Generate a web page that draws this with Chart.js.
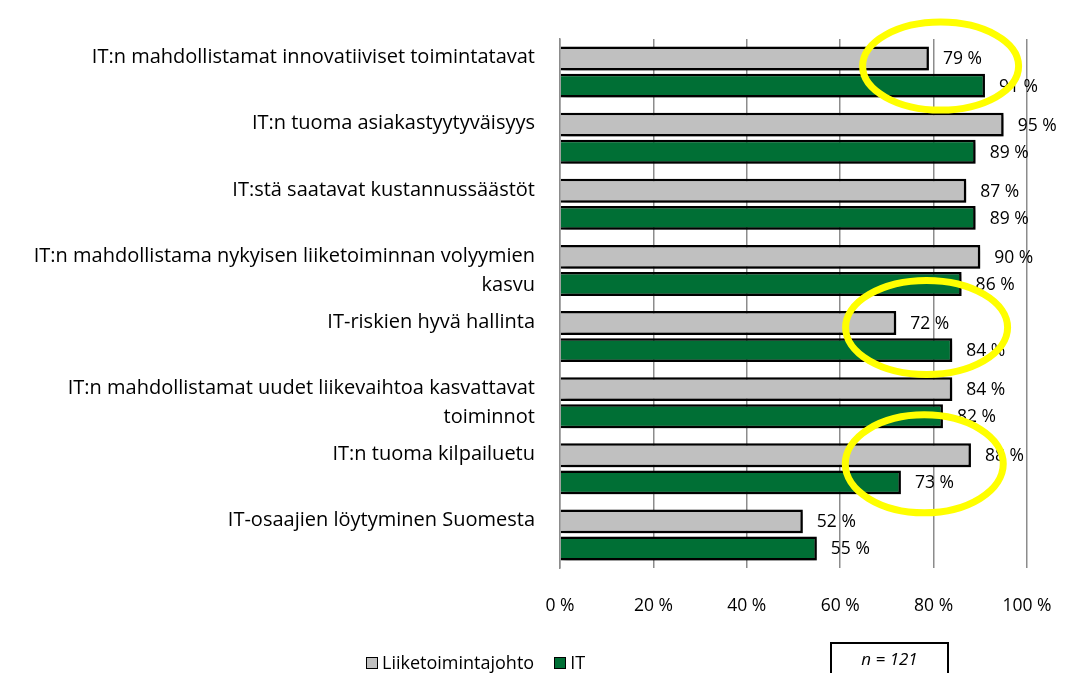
<!DOCTYPE html>
<html>
<head>
<meta charset="utf-8">
<script src="https://cdn.jsdelivr.net/npm/chart.js@4/dist/chart.umd.min.js"></script>
<style>
  html, body { margin: 0; padding: 0; background: #fff; }
  #wrap { position: relative; width: 1066px; height: 673px; overflow: hidden; }
  #legend { position: absolute; left: 366px; top: 650px; font: 18px "Open Sans", sans-serif; color: #000; display: flex; gap: 20px; line-height: 24px; }
  #legend span.item { display: flex; align-items: center; }
  #legend i { display: inline-block; width: 10px; height: 10px; border: 1.5px solid #000; margin-right: 4px; margin-top: 2px; }
  #nbox { position: absolute; left: 830px; top: 642px; width: 115px; height: 30px; border: 2px solid #000; font: italic 17px "Open Sans", sans-serif; text-align: center; line-height: 30px; }
</style>
</head>
<body>
<div id="wrap">
  <canvas id="chart" width="1066" height="673"></canvas>
  <div id="legend">
    <span class="item"><i style="background:#c0c0c0"></i>Liiketoimintajohto</span>
    <span class="item"><i style="background:#006f35"></i>IT</span>
  </div>
  <div id="nbox">n = 121</div>
</div>
<script>
// Categories (single-line labels get an empty second line so they sit high like in the original)
const categories = [
    ['IT:n mahdollistamat innovatiiviset toimintatavat', ''],
    ['IT:n tuoma asiakastyytyväisyys', ''],
    ['IT:stä saatavat kustannussäästöt', ''],
    ['IT:n mahdollistama nykyisen liiketoiminnan volyymien', 'kasvu'],
    ['IT-riskien hyvä hallinta', ''],
    ['IT:n mahdollistamat uudet liikevaihtoa kasvattavat', 'toiminnot'],
    ['IT:n tuoma kilpailuetu', ''],
    ['IT-osaajien löytyminen Suomesta', '']
];
const businessValues = [79, 95, 87, 90, 72, 84, 88, 52];
const itValues = [91, 89, 89, 86, 84, 82, 73, 55];
const xTicks = [0, 20, 40, 60, 80, 100];

// Highlight ellipses (category index, centre value, offsets)
const highlights = [
    { cat: 0, value: 81.5, dy: -6, rx: 78, ry: 44 },
    { cat: 4, value: 78.5, dy: -9, rx: 81, ry: 47 },
    { cat: 6, value: 78, dy: -5, rx: 79, ry: 49 }
];

const fontFamily = '"Open Sans", sans-serif';

// Soft drop shadow under the bars
const shadowPlugin = {
    id: 'shadow',
    beforeDatasetsDraw(chart) {
        const ctx = chart.ctx;
        ctx.save();
        ctx.shadowColor = 'rgba(0,0,0,0.45)';
        ctx.shadowBlur = 5;
        ctx.shadowOffsetX = 3;
        ctx.shadowOffsetY = 3;
    },
    afterDatasetsDraw(chart) {
        chart.ctx.restore();
    }
};

// Value labels next to bars
const valueLabels = {
    id: 'valueLabels',
    afterDatasetsDraw(chart) {
        const ctx = chart.ctx;
        ctx.save();
        ctx.font = '17.5px ' + fontFamily;
        ctx.fillStyle = '#000';
        ctx.textAlign = 'left';
        ctx.textBaseline = 'middle';
        chart.data.datasets.forEach((ds, i) => {
            chart.getDatasetMeta(i).data.forEach((bar, j) => {
                ctx.fillText(ds.data[j] + ' %', bar.x + 14, bar.y + 1);
            });
        });
        ctx.restore();
    }
};

// Yellow highlight ellipses
const ellipsePlugin = {
    id: 'ellipses',
    afterDraw(chart) {
        const ctx = chart.ctx;
        const xs = chart.scales.x, ys = chart.scales.y;
        ctx.save();
        ctx.strokeStyle = '#ffff00';
        ctx.lineWidth = 7;
        highlights.forEach(h => {
            const cx = xs.getPixelForValue(h.value);
            const cy = ys.getPixelForValue(h.cat) + h.dy;
            ctx.beginPath();
            ctx.ellipse(cx, cy, h.rx, h.ry, 0, 0, Math.PI * 2);
            ctx.stroke();
        });
        ctx.restore();
    }
};

new Chart(document.getElementById('chart'), {
    type: 'bar',
    data: {
        labels: categories,
        datasets: [
            {
                label: 'Liiketoimintajohto',
                data: businessValues,
                backgroundColor: '#c0c0c0',
                borderColor: '#000',
                borderWidth: 2.5,
                categoryPercentage: 0.82,
                barPercentage: 0.88
            },
            {
                label: 'IT',
                data: itValues,
                backgroundColor: '#006f35',
                borderColor: '#000',
                borderWidth: 2.5,
                categoryPercentage: 0.82,
                barPercentage: 0.88
            }
        ]
    },
    options: {
        indexAxis: 'y',
        responsive: false,
        animation: false,
        layout: {
            padding: { top: 39, right: 39, bottom: 28, left: 0 }
        },
        plugins: {
            legend: { display: false },
            tooltip: { enabled: false }
        },
        scales: {
            x: {
                min: 0,
                max: 100,
                afterBuildTicks(scale) {
                    scale.ticks = xTicks.map(v => ({ value: v }));
                },
                afterFit(scale) {
                    scale.paddingLeft = 0;
                    scale.paddingRight = 0;
                },
                ticks: {
                    callback: v => v + ' %',
                    color: '#000',
                    font: { family: fontFamily, size: 17.5 },
                    padding: 28,
                    maxRotation: 0
                },
                grid: { color: '#8c8c8c', lineWidth: 1.5, drawTicks: false },
                border: { display: false }
            },
            y: {
                afterFit(scale) {
                    scale.width = 560;
                    scale.paddingTop = 0;
                    scale.paddingBottom = 0;
                },
                ticks: {
                    color: '#000',
                    font: { family: fontFamily, size: 20, lineHeight: 1.45 },
                    padding: 25,
                    crossAlign: 'near'
                },
                grid: { display: false, drawTicks: false },
                border: { display: true, color: '#8c8c8c', width: 1.5 }
            }
        }
    },
    plugins: [shadowPlugin, valueLabels, ellipsePlugin]
});
</script>
</body>
</html>
